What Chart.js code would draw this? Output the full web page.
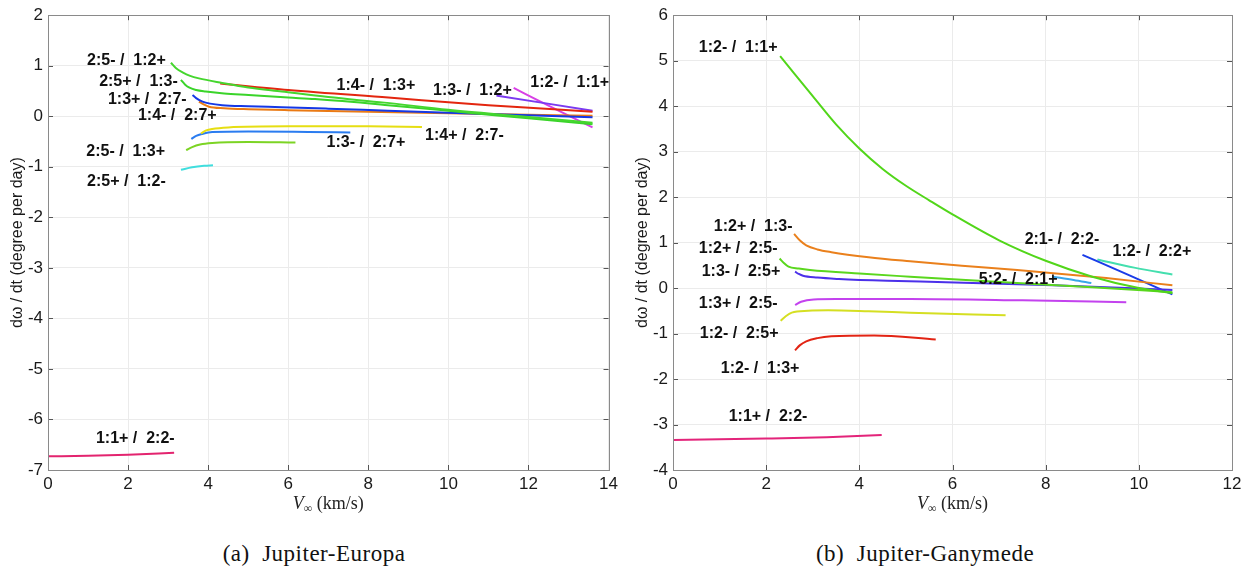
<!DOCTYPE html>
<html>
<head>
<meta charset="utf-8">
<script src="https://cdn.jsdelivr.net/npm/chart.js@4.4.1/dist/chart.umd.min.js"></script>
<style>
  html, body { margin: 0; padding: 0; background: #ffffff; }
  body { width: 1247px; height: 571px; position: relative; overflow: hidden; }
  canvas { position: absolute; top: 0; }
  #c1 { left: 0px; }
  #c2 { left: 625px; }
  .cap { position: absolute; top: 541px; font-family: "Liberation Serif", "DejaVu Serif", serif; font-size: 23px; letter-spacing: 0.5px; color: #111; text-align: center; width: 400px; }
</style>
</head>
<body>
<canvas id="c1" width="622" height="520"></canvas>
<canvas id="c2" width="622" height="520"></canvas>
<div class="cap" style="left:114px;">(a)&nbsp; Jupiter-Europa</div>
<div class="cap" style="left:725px;">(b)&nbsp; Jupiter-Ganymede</div>
<script>
// ---------------- Europa (a) ----------------
const europaXTicks = [0, 2, 4, 6, 8, 10, 12, 14];
const europaYTicks = [-7, -6, -5, -4, -3, -2, -1, 0, 1, 2];
const europaNames = ['2:5- / 1:2+', '2:5+ / 1:3-', '1:4- / 1:3+', '1:3+ / 2:7-', '1:4- / 2:7+', '1:3- / 1:2+',
  '1:2- / 1:1+', '1:4+ / 2:7-', '1:3- / 2:7+', '2:5- / 1:3+', '2:5+ / 1:2-', '1:1+ / 2:2-'];
const eu1x = [3.07, 3.2, 3.36, 3.55, 3.77, 4.35, 5.0, 5.84, 7.0, 8.4, 10.0, 11.8, 13.6];
const eu1y = [1.06, 0.95, 0.87, 0.80, 0.75, 0.66, 0.57, 0.49, 0.38, 0.27, 0.13, 0.0, -0.13];
const eu2x = [3.32, 3.42, 3.52, 3.7, 3.94, 4.4, 5.01, 6.0, 6.67, 8.49, 10.5, 12, 13.6];
const eu2y = [0.72, 0.63, 0.57, 0.52, 0.49, 0.45, 0.42, 0.37, 0.34, 0.22, 0.07, -0.04, -0.16];
const eu3x = [4.3, 6, 8.5, 11, 13.6];
const eu3y = [0.65, 0.52, 0.37, 0.22, 0.09];
const eu4x = [3.61, 3.7, 3.86, 4.05, 4.35, 5.0, 5.84, 7.0, 8.49, 10, 12, 13.6];
const eu4y = [0.42, 0.36, 0.29, 0.25, 0.22, 0.20, 0.18, 0.15, 0.11, 0.07, 0.02, -0.02];
const eu5x = [3.77, 3.9, 4.02, 4.4, 5.01, 6, 8, 10, 12, 13.6];
const eu5y = [0.29, 0.23, 0.19, 0.16, 0.14, 0.12, 0.09, 0.06, 0.03, 0.01];
const eu6x = [11.2, 12.4, 13.6];
const eu6y = [0.41, 0.26, 0.11];
const eu7x = [11.63, 12.6, 13.6];
const eu7y = [0.56, 0.17, -0.22];
const eu8x = [3.82, 3.95, 4.1, 4.5, 6, 8, 9.34];
const eu8y = [-0.34, -0.28, -0.25, -0.22, -0.20, -0.20, -0.21];
const eu9x = [3.58, 3.7, 3.85, 4.1, 5, 6.5, 7.55];
const eu9y = [-0.45, -0.39, -0.35, -0.31, -0.30, -0.31, -0.32];
const eu10x = [3.45, 3.6, 3.8, 4.1, 5, 6.18];
const eu10y = [-0.67, -0.61, -0.56, -0.53, -0.51, -0.52];
const eu11x = [3.32, 3.6, 3.9, 4.12];
const eu11y = [-1.06, -1.01, -0.98, -0.97];
const eu12x = [0, 1, 2, 3.15];
const eu12y = [-6.73, -6.72, -6.70, -6.66];
const europaColors = ['#45d62e', '#3ad42a', '#e3260f', '#1538e6', '#ea7a14', '#7b3af0',
  '#d840e6', '#e6de12', '#2a7cf0', '#7cd424', '#40dede', '#e3246f'];
const europaLabelText = ['2:5- /  1:2+', '2:5+ /  1:3-', '1:3+ /  2:7-', '1:4- /  2:7+', '2:5- /  1:3+', '2:5+ /  1:2-',
  '1:4- /  1:3+', '1:3- /  1:2+', '1:2- /  1:1+', '1:3- /  2:7+', '1:4+ /  2:7-', '1:1+ /  2:2-'];
const europaLabelX = [1.96, 2.26, 2.48, 3.23, 1.94, 1.96, 8.19, 10.6, 13.03, 7.94, 10.4, 2.18];
const europaLabelY = [1.10, 0.69, 0.33, 0.02, -0.69, -1.30, 0.61, 0.51, 0.67, -0.53, -0.39, -6.38];

// ---------------- Ganymede (b) ----------------
const ganyXTicks = [0, 2, 4, 6, 8, 10, 12];
const ganyYTicks = [-4, -3, -2, -1, 0, 1, 2, 3, 4, 5, 6];
const ganyNames = ['1:2- / 1:1+', '1:2+ / 1:3-', '1:2+ / 2:5-', '1:3- / 2:5+', '5:2- / 2:1+', '2:1- / 2:2-',
  '1:2- / 2:2+', '1:3+ / 2:5-', '1:2- / 2:5+', '1:2- / 1:3+', '1:1+ / 2:2-'];
const ga1x = [2.3, 2.6, 3.0, 3.5, 4.0, 4.5, 5.0, 5.5, 6.0, 7.0, 8.0, 9.0, 10.0, 10.72];
const ga1y = [5.10, 4.72, 4.22, 3.60, 3.07, 2.62, 2.25, 1.93, 1.62, 1.05, 0.60, 0.25, 0.0, -0.11];
const ga2x = [2.60, 2.72, 2.86, 3.1, 3.40, 4.2, 5.09, 6.2, 7.39, 9.3, 10.72];
const ga2y = [1.19, 1.05, 0.94, 0.85, 0.79, 0.68, 0.59, 0.49, 0.40, 0.22, 0.06];
const ga3x = [2.29, 2.38, 2.48, 2.7, 2.94, 4, 5.09, 7.39, 9, 10.72];
const ga3y = [0.65, 0.55, 0.47, 0.43, 0.40, 0.32, 0.25, 0.11, 0.02, -0.09];
const ga4x = [2.62, 2.7, 2.79, 3.1, 3.56, 4.6, 5.86, 8.16, 10.72];
const ga4y = [0.36, 0.31, 0.27, 0.23, 0.20, 0.16, 0.13, 0.06, -0.04];
const ga5x = [8.16, 8.6, 8.98];
const ga5y = [0.25, 0.18, 0.11];
const ga6x = [8.79, 9.8, 10.72];
const ga6y = [0.73, 0.28, -0.14];
const ga7x = [9.11, 9.9, 10.72];
const ga7y = [0.63, 0.45, 0.30];
const ga8x = [2.62, 2.75, 3.02, 3.5, 5.09, 7.5, 9.73];
const ga8y = [-0.37, -0.30, -0.25, -0.24, -0.24, -0.27, -0.31];
const ga9x = [2.31, 2.42, 2.55, 2.9, 3.33, 4.2, 5.09, 7.14];
const ga9y = [-0.72, -0.62, -0.54, -0.50, -0.49, -0.51, -0.54, -0.60];
const ga10x = [2.62, 2.72, 2.86, 3.1, 3.40, 4.32, 5.64];
const ga10y = [-1.37, -1.26, -1.17, -1.10, -1.06, -1.04, -1.13];
const ga11x = [0, 2, 3.3, 4.48];
const ga11y = [-3.34, -3.31, -3.28, -3.23];
const ganyColors = ['#52d61a', '#ea801c', '#5ad71e', '#4b30ea', '#38a6ea', '#1a3ce8',
  '#44dfae', '#c342ee', '#d5df22', '#e22414', '#e3247a'];
const ganyLabelText = ['1:2- /  1:1+', '1:2+ /  1:3-', '1:2+ /  2:5-', '1:3- /  2:5+', '1:3+ /  2:5-', '1:2- /  2:5+',
  '1:2- /  1:3+', '1:1+ /  2:2-', '2:1- /  2:2-', '1:2- /  2:2+', '5:2- /  2:1+'];
const ganyLabelX = [1.40, 1.72, 1.40, 1.46, 1.40, 1.42, 1.87, 2.04, 8.35, 10.28, 7.41];
const ganyLabelY = [5.28, 1.36, 0.86, 0.37, -0.34, -1.01, -1.77, -2.82, 1.06, 0.80, 0.19];

const europaX = [eu1x, eu2x, eu3x, eu4x, eu5x, eu6x, eu7x, eu8x, eu9x, eu10x, eu11x, eu12x];
const europaY = [eu1y, eu2y, eu3y, eu4y, eu5y, eu6y, eu7y, eu8y, eu9y, eu10y, eu11y, eu12y];
const ganyX = [ga1x, ga2x, ga3x, ga4x, ga5x, ga6x, ga7x, ga8x, ga9x, ga10x, ga11x];
const ganyY = [ga1y, ga2y, ga3y, ga4y, ga5y, ga6y, ga7y, ga8y, ga9y, ga10y, ga11y];

function buildDatasets(names, xs, ys, colors) {
  return names.map((n, i) => ({
    label: n,
    data: xs[i].map((x, j) => ({ x: x, y: ys[i][j] })),
    borderColor: colors[i],
    backgroundColor: colors[i],
    borderWidth: 2,
    pointRadius: 0,
    showLine: true,
    fill: false,
    cubicInterpolationMode: 'monotone'
  }));
}

const framePlugin = {
  id: 'frame',
  afterDraw(chart) {
    const { ctx, chartArea: a, scales } = chart;
    ctx.save();
    ctx.strokeStyle = '#555';
    ctx.lineWidth = 1;
    ctx.beginPath();
    scales.x.ticks.forEach(t => {
      const px = Math.round(scales.x.getPixelForValue(t.value)) + 0.5;
      ctx.moveTo(px, a.bottom); ctx.lineTo(px, a.bottom - 5);
      ctx.moveTo(px, a.top); ctx.lineTo(px, a.top + 5);
    });
    scales.y.ticks.forEach(t => {
      const py = Math.round(scales.y.getPixelForValue(t.value)) + 0.5;
      ctx.moveTo(a.left, py); ctx.lineTo(a.left + 5, py);
      ctx.moveTo(a.right, py); ctx.lineTo(a.right - 5, py);
    });
    ctx.stroke();
    ctx.strokeStyle = '#8a8a8a';
    ctx.lineWidth = 1;
    ctx.strokeRect(Math.round(a.left) + 0.5, Math.round(a.top) + 0.5,
      Math.round(a.right - a.left), Math.round(a.bottom - a.top));
    // x axis title: V_inf (km/s)
    const cx = (a.left + a.right) / 2;
    const ty = a.bottom + 39;
    ctx.fillStyle = '#222';
    ctx.textBaseline = 'alphabetic';
    ctx.font = 'italic 18px "Liberation Serif", serif';
    const wV = ctx.measureText('V').width;
    ctx.font = '12px "Liberation Serif", serif';
    const wInf = ctx.measureText('\u221E').width;
    ctx.font = '18px "Liberation Serif", serif';
    const wRest = ctx.measureText(' (km/s)').width;
    let x0 = cx - (wV + wInf + wRest) / 2;
    ctx.textAlign = 'left';
    ctx.font = 'italic 18px "Liberation Serif", serif';
    ctx.fillText('V', x0, ty);
    ctx.font = '12px "Liberation Serif", serif';
    ctx.fillText('\u221E', x0 + wV, ty + 3);
    ctx.font = '18px "Liberation Serif", serif';
    ctx.fillText(' (km/s)', x0 + wV + wInf, ty);
    ctx.restore();
  }
};

function labelPlugin(texts, xs, ys) {
  return {
    id: 'curveLabels',
    afterDatasetsDraw(chart) {
      const { ctx, scales } = chart;
      ctx.save();
      ctx.font = 'bold 16px "Liberation Sans", Arial, sans-serif';
      ctx.fillStyle = '#111';
      ctx.textAlign = 'center';
      ctx.textBaseline = 'middle';
      texts.forEach((t, i) => {
        ctx.fillText(t, scales.x.getPixelForValue(xs[i]), scales.y.getPixelForValue(ys[i]));
      });
      ctx.restore();
    }
  };
}

function makeChart(id, names, xs, ys, colors, xTicks, yTicks, rightPad, lt, lx, ly) {
  return new Chart(document.getElementById(id), {
    type: 'scatter',
    data: { datasets: buildDatasets(names, xs, ys, colors) },
    options: {
      responsive: false,
      animation: false,
      layout: { padding: { top: 12, right: rightPad, left: 0, bottom: 0 } },
      plugins: { legend: { display: false }, tooltip: { enabled: false } },
      scales: {
        x: {
          type: 'linear',
          min: xTicks[0], max: xTicks[xTicks.length - 1],
          afterBuildTicks: s => { s.ticks = xTicks.map(v => ({ value: v })); },
          afterFit: s => { s.height = 50; },
          ticks: { color: '#1a1a1a', font: { size: 17, family: '"Liberation Sans", Arial, sans-serif' }, padding: 4, maxRotation: 0 },
          grid: { color: '#ebebeb', lineWidth: 1, drawTicks: false },
          border: { display: false }
        },
        y: {
          type: 'linear',
          min: yTicks[0], max: yTicks[yTicks.length - 1],
          afterBuildTicks: s => { s.ticks = yTicks.map(v => ({ value: v })); },
          afterFit: s => { s.width = 48; },
          ticks: { color: '#1a1a1a', font: { size: 17, family: '"Liberation Sans", Arial, sans-serif' }, padding: 5 },
          grid: { color: '#ebebeb', lineWidth: 1, drawTicks: false },
          border: { display: false },
          title: { display: true, text: 'd\u03C9 / dt (degree per day)', color: '#1a1a1a',
            font: { size: 16, family: '"Liberation Sans", Arial, sans-serif' }, padding: { top: 8, bottom: 0 } }
        }
      }
    },
    plugins: [framePlugin, labelPlugin(lt, lx, ly)]
  });
}

makeChart('c1', europaNames, europaX, europaY, europaColors, europaXTicks, europaYTicks, 10,
  europaLabelText, europaLabelX, europaLabelY);
makeChart('c2', ganyNames, ganyX, ganyY, ganyColors, ganyXTicks, ganyYTicks, 15,
  ganyLabelText, ganyLabelX, ganyLabelY);
</script>
</body>
</html>
